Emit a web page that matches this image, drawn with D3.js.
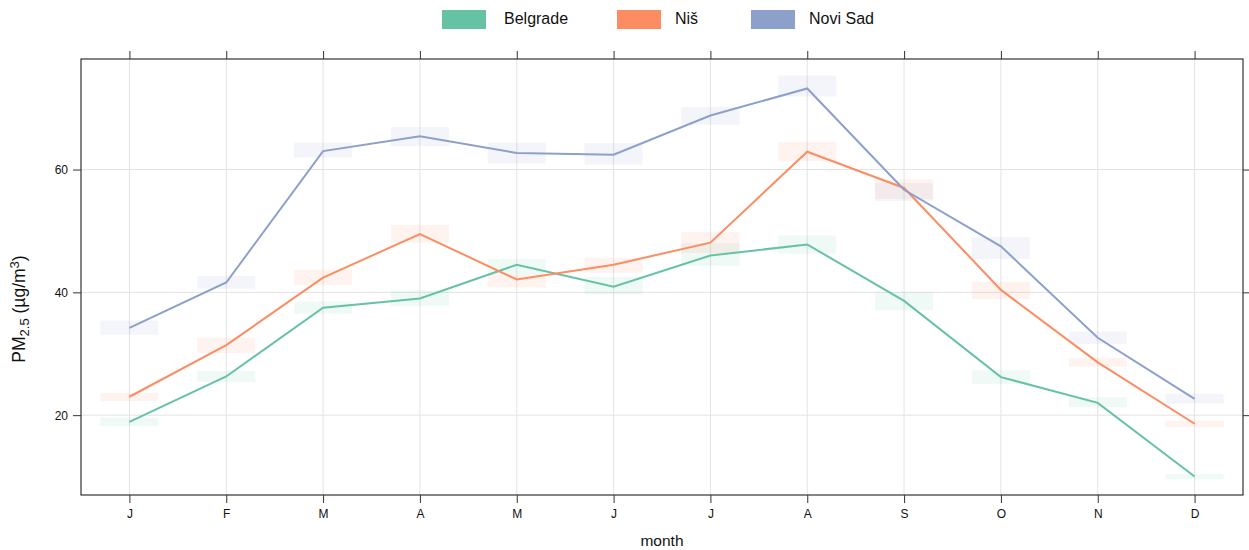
<!DOCTYPE html>
<html>
<head>
<meta charset="utf-8">
<script src="https://cdn.jsdelivr.net/npm/d3@7"></script>
<style>
  html, body { margin: 0; padding: 0; background: #fff; }
  svg { display: block; font-family: "Liberation Sans", Arial, sans-serif; }
</style>
</head>
<body>
<div id="chart"></div>
<script>
// data (monthly PM2.5 means with interval bands)
const months = ["J", "F", "M", "A", "M", "J", "J", "A", "S", "O", "N", "D"];
const cities = ["Belgrade", "Niš", "Novi Sad"];
const colours = ["#66c2a5", "#fc8d62", "#8da0cb"];

const belgrade    = [18.9, 26.3, 37.5, 39.0, 44.5, 40.9, 46.0, 47.8, 38.6, 26.2, 22.0, 10.0];
const belgradeLow = [18.25, 25.4, 36.55, 37.8, 43.0, 39.7, 44.3, 46.3, 37.1, 25.1, 21.3, 9.6];
const belgradeHigh= [19.6, 27.2, 38.5, 40.3, 45.4, 42.5, 48.0, 49.25, 40.1, 27.3, 22.9, 10.4];

const nis     = [23.0, 31.4, 42.4, 49.5, 42.1, 44.5, 48.1, 62.9, 57.0, 40.4, 28.6, 18.6];
const nisLow  = [22.3, 30.1, 41.2, 48.1, 40.8, 43.2, 46.4, 61.4, 55.2, 38.9, 27.9, 18.05];
const nisHigh = [23.6, 32.6, 43.7, 51.0, 43.0, 45.6, 49.8, 64.5, 58.4, 41.7, 29.3, 19.1];

const noviSad     = [34.2, 41.6, 63.0, 65.4, 62.7, 62.4, 68.8, 73.2, 56.7, 47.5, 32.6, 22.65];
const noviSadLow  = [33.1, 40.6, 61.95, 63.8, 61.0, 60.8, 67.3, 71.9, 54.9, 45.4, 31.6, 21.9];
const noviSadHigh = [35.4, 42.7, 64.35, 66.95, 64.35, 64.3, 70.2, 75.3, 57.8, 49.0, 33.6, 23.5];

const yTicks = [20, 40, 60];

const series = [
  {name: cities[0], colour: colours[0], mean: belgrade, low: belgradeLow, high: belgradeHigh},
  {name: cities[1], colour: colours[1], mean: nis, low: nisLow, high: nisHigh},
  {name: cities[2], colour: colours[2], mean: noviSad, low: noviSadLow, high: noviSadHigh}
];

const width = 1249, height = 550;
const margin = {top: 59, right: 6, bottom: 55, left: 81};
const innerWidth = width - margin.left - margin.right;
const innerHeight = height - margin.top - margin.bottom;

const svg = d3.select("#chart")
  .append("svg")
  .attr("width", width)
  .attr("height", height);

const inner = svg.append("g")
  .attr("transform", `translate(${margin.left},${margin.top})`);

const xScale = d3.scaleLinear().domain([0.5, 12.5]).range([0, innerWidth]);
const yScale = d3.scaleLinear().domain([7.0, 78.0]).range([innerHeight, 0]);
const monthIdx = d3.range(1, 13);

// grid
inner.append("g").selectAll("line")
  .data(monthIdx)
  .join("line")
    .attr("x1", d => xScale(d)).attr("x2", d => xScale(d))
    .attr("y1", 0).attr("y2", innerHeight)
    .attr("stroke", "#e3e3e3").attr("stroke-width", 1);

inner.append("g").selectAll("line")
  .data(yTicks)
  .join("line")
    .attr("x1", 0).attr("x2", innerWidth)
    .attr("y1", d => yScale(d)).attr("y2", d => yScale(d))
    .attr("stroke", "#e3e3e3").attr("stroke-width", 1);

// interval bands
const bandW = (xScale(2) - xScale(1)) * 0.6;
series.forEach(s => {
  inner.append("g").selectAll("rect")
    .data(monthIdx)
    .join("rect")
      .attr("x", d => xScale(d) - bandW / 2)
      .attr("width", bandW)
      .attr("y", d => yScale(s.high[d - 1]))
      .attr("height", d => yScale(s.low[d - 1]) - yScale(s.high[d - 1]))
      .attr("fill", s.colour)
      .attr("fill-opacity", 0.1);
});

// lines
const lineGen = d3.line()
  .x((d, i) => xScale(i + 1))
  .y(d => yScale(d));

series.forEach(s => {
  inner.append("path")
    .attr("d", lineGen(s.mean))
    .attr("fill", "none")
    .attr("stroke", s.colour)
    .attr("stroke-width", 2);
});

// axes on all four sides, lattice style
const axisCol = "#333";
const xAxisB = d3.axisBottom(xScale).tickValues(monthIdx).tickFormat(d => months[d - 1]).tickSizeOuter(0).tickSize(8).tickPadding(6);
const xAxisT = d3.axisTop(xScale).tickValues(monthIdx).tickSizeOuter(0).tickSize(8);
const yAxisL = d3.axisLeft(yScale).tickValues(yTicks).tickSizeOuter(0).tickSize(8).tickPadding(5);
const yAxisR = d3.axisRight(yScale).tickValues(yTicks).tickSizeOuter(0).tickSize(7);

inner.append("g").attr("transform", `translate(0,${innerHeight})`).call(xAxisB);
inner.append("g").attr("class", "no-labels").call(xAxisT);
inner.append("g").call(yAxisL);
inner.append("g").attr("class", "no-labels").attr("transform", `translate(${innerWidth},0)`).call(yAxisR);

inner.selectAll(".no-labels .tick text").remove(); // top/right only carry ticks
inner.selectAll(".domain").remove();
inner.selectAll(".tick line").attr("stroke", axisCol);
inner.selectAll(".tick text")
  .attr("fill", "#111")
  .attr("font-size", 12)
  .attr("font-family", "Liberation Sans, Arial, sans-serif");

inner.append("rect")
  .attr("width", innerWidth).attr("height", innerHeight)
  .attr("fill", "none").attr("stroke", axisCol).attr("stroke-width", 1.2);

// axis titles
svg.append("text")
  .attr("x", margin.left + innerWidth / 2)
  .attr("y", 546)
  .attr("text-anchor", "middle")
  .attr("font-size", 15.5)
  .attr("fill", "#111")
  .text("month");

const yLab = svg.append("text")
  .attr("transform", "translate(25,309) rotate(-90)")
  .attr("text-anchor", "middle")
  .attr("font-size", 17.5)
  .attr("fill", "#111");
yLab.append("tspan").text("PM");
yLab.append("tspan").attr("font-size", 13).attr("dy", 4).text("2.5");
yLab.append("tspan").attr("dy", -4).text(" (µg/m");
yLab.append("tspan").attr("font-size", 13).attr("dy", -6).text("3");
yLab.append("tspan").attr("dy", 6).text(")");

// legend
const legendX = [442, 617, 751];
const legend = svg.append("g");
series.forEach((s, i) => {
  legend.append("rect")
    .attr("x", legendX[i]).attr("y", 10)
    .attr("width", 44).attr("height", 19)
    .attr("fill", s.colour);
  legend.append("text")
    .attr("x", legendX[i] + (i === 0 ? 62 : 58))
    .attr("y", 24)
    .attr("font-size", 16)
    .attr("fill", "#111")
    .text(s.name);
});
</script>
</body>
</html>
